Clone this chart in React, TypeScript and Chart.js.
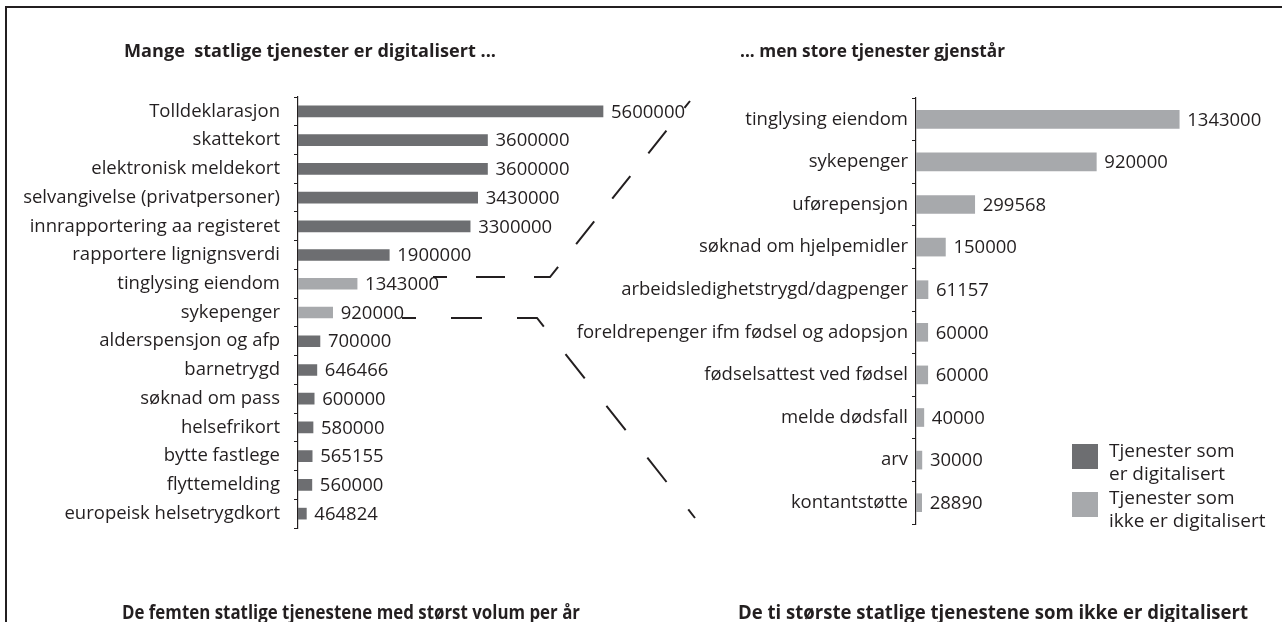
import React, { useEffect, useLayoutEffect, useRef } from 'react';
import { Chart, registerables } from 'chart.js';

Chart.register(...registerables);

// ---------- data ----------
const leftCategories = [
  'Tolldeklarasjon',
  'skattekort',
  'elektronisk meldekort',
  'selvangivelse (privatpersoner)',
  'innrapportering aa registeret',
  'rapportere lignignsverdi',
  'tinglysing eiendom',
  'sykepenger',
  'alderspensjon og afp',
  'barnetrygd',
  'søknad om pass',
  'helsefrikort',
  'bytte fastlege',
  'flyttemelding',
  'europeisk helsetrygdkort',
];
const leftValues = [
  5600000, 3600000, 3600000, 3430000, 3300000, 1900000, 1343000, 920000,
  700000, 646466, 600000, 580000, 565155, 560000, 464824,
];

const rightCategories = [
  'tinglysing eiendom',
  'sykepenger',
  'uførepensjon',
  'søknad om hjelpemidler',
  'arbeidsledighetstrygd/dagpenger',
  'foreldrepenger ifm fødsel og adopsjon',
  'fødselsattest ved fødsel',
  'melde dødsfall',
  'arv',
  'kontantstøtte',
];
const rightValues = [1343000, 920000, 299568, 150000, 61157, 60000, 60000, 40000, 30000, 28890];

const legendLabels = [
  ['Tjenester som', 'er digitalisert'],
  ['Tjenester som', 'ikke er digitalisert'],
];

const titleLeft = 'Mange  statlige tjenester er digitalisert ...';
const titleRight = '... men store tjenester gjenstår';
const captionLeft = 'De femten statlige tjenestene med størst volum per år';
const captionRight = 'De ti største statlige tjenestene som ikke er digitalisert';

// ---------- styles ----------
const DARK = '#6d6e71';
const LIGHT = '#a7a9ac';
const INK = '#231f20';
const FONT = '"Open Sans", "DejaVu Sans", sans-serif';
const LABEL_SIZE = 18.5;

// decorative connector paths (not data)
const connectorUpper = [[433, 277], [550, 277], [690, 101]];
const connectorLower = [[402, 318], [537, 318], [695, 518]];

const valueLabels = {
  id: 'valueLabels',
  afterDatasetsDraw(chart: any, _args: any, opts: any) {
    const { ctx } = chart;
    const meta = chart.getDatasetMeta(0);
    const data = chart.data.datasets[0].data;
    ctx.save();
    ctx.font = `${opts.size}px ${FONT}`;
    ctx.fillStyle = INK;
    ctx.textBaseline = 'middle';
    ctx.textAlign = 'left';
    meta.data.forEach((bar: any, i: number) => {
      ctx.fillText(String(data[i]), bar.x + opts.gap, bar.y + 1);
    });
    ctx.restore();
  },
};

function makeChart(
  canvas: HTMLCanvasElement,
  labels: string[],
  values: number[],
  colors: string[],
  o: { axisWidth: number; top: number; bottom: number; right: number; min: number; max: number; thickness: number; pad: number }
) {
  return new Chart(canvas, {
    type: 'bar',
    data: {
      labels,
      datasets: [{ data: values, backgroundColor: colors, barThickness: o.thickness }],
    },
    options: {
      indexAxis: 'y',
      responsive: false,
      maintainAspectRatio: false,
      animation: false,
      layout: { padding: { top: o.top, bottom: o.bottom, left: 0, right: o.right } },
      plugins: {
        legend: { display: false },
        tooltip: { enabled: false },
        valueLabels: { size: LABEL_SIZE, gap: 8 },
      } as any,
      scales: {
        x: { display: false, min: o.min, max: o.max },
        y: {
          afterFit: (s: any) => {
            s.width = o.axisWidth;
          },
          grid: { drawOnChartArea: false, drawTicks: true, tickLength: 4, color: INK, offset: true, lineWidth: 1 },
          border: { display: true, color: INK, width: 1.2 },
          ticks: { padding: o.pad, color: INK, font: { family: FONT, size: LABEL_SIZE } },
        },
      },
    },
    plugins: [valueLabels],
  });
}

function FitText({ text, left, top, width, font }: { text: string; left: number; top: number; width: number; font: string }) {
  const ref = useRef<HTMLSpanElement>(null);
  useLayoutEffect(() => {
    const el = ref.current;
    if (!el) return;
    el.style.transform = 'translateY(-50%)';
    const w = el.getBoundingClientRect().width;
    el.style.transform = `translateY(-50%) scaleX(${width / w})`;
  }, [text, width, font]);
  return (
    <span
      ref={ref}
      style={{
        position: 'absolute',
        left,
        top,
        font,
        whiteSpace: 'pre',
        color: INK,
        transformOrigin: '0 50%',
        transform: 'translateY(-50%)',
        lineHeight: 1,
      }}
    >
      {text}
    </span>
  );
}

function Connector({ pts, dash, offset }: { pts: number[][]; dash: string; offset: number }) {
  return (
    <polyline
      points={pts.map((p) => p.join(',')).join(' ')}
      fill="none"
      stroke={INK}
      strokeWidth={2}
      strokeDasharray={dash}
      strokeDashoffset={offset}
    />
  );
}

export default function App() {
  const leftRef = useRef<HTMLCanvasElement>(null);
  const rightRef = useRef<HTMLCanvasElement>(null);

  useEffect(() => {
    const leftColors = leftCategories.map((c) => (rightCategories.includes(c) ? LIGHT : DARK));
    const rightColors = rightCategories.map(() => LIGHT);
    const a = makeChart(leftRef.current!, leftCategories, leftValues, leftColors, {
      axisWidth: 298, top: 97, bottom: 94, right: 65, min: 320000, max: 6500000, thickness: 11, pad: 14,
    });
    const b = makeChart(rightRef.current!, rightCategories, rightValues, rightColors, {
      axisWidth: 416, top: 98, bottom: 98, right: 72, min: 0, max: 1500000, thickness: 18, pad: 4,
    });
    return () => {
      a.destroy();
      b.destroy();
    };
  }, []);

  return (
    <div style={{ position: 'fixed', left: 0, top: 0, width: 1282, height: 622, overflow: 'hidden', background: '#fff' }}>
      <div style={{ position: 'absolute', left: 5, top: 6, width: 1300, height: 640, border: `2px solid ${INK}` }} />
      <canvas ref={leftRef} width={720} height={622} style={{ position: 'absolute', left: 0, top: 0 }} />
      <canvas ref={rightRef} width={782} height={622} style={{ position: 'absolute', left: 500, top: 0 }} />
      <svg width={1282} height={622} style={{ position: 'absolute', left: 0, top: 0 }}>
        <Connector pts={connectorUpper} dash="29 29" offset={15} />
        <Connector pts={connectorLower} dash="31 35" offset={17} />
      </svg>
      <FitText text={titleLeft} left={124} top={50} width={372} font={`bold 18px ${FONT}`} />
      <FitText text={titleRight} left={740} top={50} width={265} font={`bold 18px ${FONT}`} />
      <FitText text={captionLeft} left={122} top={612} width={458} font={`bold 19px ${FONT}`} />
      <FitText text={captionRight} left={738} top={612} width={510} font={`bold 19px ${FONT}`} />
      {[DARK, LIGHT].map((c, i) => (
        <div key={c} style={{ position: 'absolute', left: 1072, top: 444 + i * 48, width: 26, height: 25, background: c }} />
      ))}
      {legendLabels.map((lines, i) =>
        lines.map((t, j) => (
          <span
            key={`${i}-${j}`}
            style={{
              position: 'absolute',
              left: 1109,
              top: 450 + i * 47 + j * 23,
              transform: 'translateY(-50%)',
              font: `19px ${FONT}`,
              color: INK,
              whiteSpace: 'pre',
              lineHeight: 1,
            }}
          >
            {t}
          </span>
        ))
      )}
    </div>
  );
}
